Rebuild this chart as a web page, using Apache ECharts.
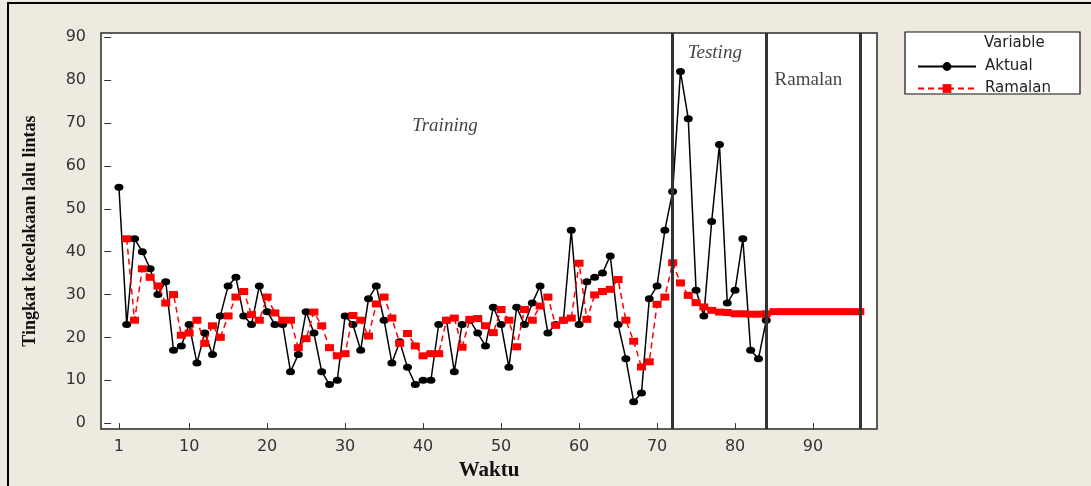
<!DOCTYPE html>
<html>
<head>
<meta charset="utf-8">
<script src="https://cdn.jsdelivr.net/npm/echarts@6/dist/echarts.min.js"></script>
<style>
  html, body { margin: 0; padding: 0; background: #EEEAE0; }
  #chart { width: 1091px; height: 486px; }
</style>
</head>
<body>
<div id="chart"></div>
<script>
// Jumlah kecelakaan lalu lintas per periode waktu (data aktual, t = 1..84)
const aktual = [
  55, 23, 43, 40, 36, 30, 33, 17, 18, 23,
  14, 21, 16, 25, 32, 34, 25, 23, 32, 26,
  23, 23, 12, 16, 26, 21, 12, 9, 10, 25,
  23, 17, 29, 32, 24, 14, 19, 13, 9, 10,
  10, 23, 24, 12, 23, 24, 21, 18, 27, 23,
  13, 27, 23, 28, 32, 21, 23, 24, 45, 23,
  33, 34, 35, 39, 23, 15, 5, 7, 29, 32,
  45, 54, 82, 71, 31, 25, 47, 65, 28, 31,
  43, 17, 15, 24
];
const aktualMulai = 1;

// Hasil ramalan model (t = 2..96)
const ramalan = [
  43, 24, 36, 34, 32, 28, 30, 20.5, 21,
  24, 18.6, 22.7, 20, 25, 29.4, 30.7, 25.3, 24, 29.4,
  25.7, 24, 24, 17.6, 19.7, 25.9, 22.7, 17.6, 15.7, 16.2,
  25.1, 24, 20.3, 27.8, 29.4, 24.5, 18.6, 20.9, 18, 15.7,
  16.2, 16.2, 24, 24.5, 17.7, 24.2, 24.4, 22.7, 21.1, 26.5,
  24, 17.8, 26.5, 24, 27.3, 29.4, 22.8, 24, 24.5, 37.3,
  24.2, 29.9, 30.7, 31.2, 33.5, 24, 19.1, 13.1, 14.3, 27.7,
  29.4, 37.4, 32.7, 29.8, 28.1, 27.1, 26.3, 25.9, 25.8, 25.5,
  25.5, 25.4, 25.4, 25.5, 26, 26, 26, 26, 26, 26,
  26, 26, 26, 26, 26, 26
];
const ramalanMulai = 2;

// Batas periode Training | Testing | Ramalan
const batasPeriode = [72, 84, 96];

// Label sumbu
const labelWaktu = [1, 10, 20, 30, 40, 50, 60, 70, 80, 90];
const labelTingkat = [0, 10, 20, 30, 40, 50, 60, 70, 80, 90];

const keTitik = (arr, mulai) => arr.map((v, i) => [mulai + i, v]);

const chart = echarts.init(document.getElementById('chart'), null, { renderer: 'canvas' });

const fontTick = 'DejaVu Sans, Verdana, sans-serif';
const fontSerif = 'Liberation Serif, Times New Roman, serif';

chart.setOption({
  backgroundColor: '#EEEAE0',
  animation: false,
  grid: {
    left: 101, top: 33, right: 214, bottom: 55,
    show: true,
    backgroundColor: '#ffffff',
    borderColor: '#2a2a2a',
    borderWidth: 1.5
  },
  xAxis: {
    type: 'value',
    min: -1.3,
    max: 98.2,
    name: 'Waktu',
    nameLocation: 'middle',
    nameGap: 28,
    nameTextStyle: { fontFamily: fontSerif, fontWeight: 'bold', fontSize: 21, color: '#111' },
    axisLine: { show: false },
    splitLine: { show: false },
    axisTick: {
      show: true, length: 6, inside: false,
      customValues: labelWaktu,
      lineStyle: { color: '#333', width: 1 }
    },
    axisLabel: {
      customValues: labelWaktu,
      margin: 10,
      fontFamily: fontTick, fontSize: 16, color: '#333'
    }
  },
  yAxis: {
    type: 'value',
    min: -1.4,
    max: 91,
    name: 'Tingkat kecelakaan lalu lintas',
    nameLocation: 'middle',
    nameRotate: 90,
    nameGap: 62,
    nameTextStyle: { fontFamily: fontSerif, fontWeight: 'bold', fontSize: 18, color: '#111' },
    axisLine: { show: false },
    splitLine: { show: false },
    axisTick: {
      show: true, length: 7, inside: false,
      customValues: labelTingkat,
      lineStyle: { color: '#333', width: 1 }
    },
    axisLabel: {
      customValues: labelTingkat,
      margin: 15,
      fontFamily: fontTick, fontSize: 16, color: '#333'
    }
  },
  legend: {
    orient: 'vertical',
    left: 912,
    top: 54,
    itemWidth: 58,
    itemHeight: 11,
    itemGap: 7,
    data: ['Aktual', 'Ramalan'],
    textStyle: { fontFamily: fontTick, fontSize: 15, color: '#222', padding: [0, 0, 0, 4] }
  },
  graphic: [
    { // bingkai luar
      type: 'rect', silent: true, z: 0,
      shape: { x: 8, y: 3, width: 1200, height: 600 },
      style: { fill: 'none', stroke: '#000', lineWidth: 2 }
    },
    { // kotak legenda
      type: 'rect', silent: true, z: 1,
      shape: { x: 905, y: 32, width: 175, height: 62 },
      style: { fill: '#ffffff', stroke: '#111', lineWidth: 1.2 }
    },
    {
      type: 'text', silent: true, z: 2,
      left: 984, top: 36,
      style: { text: 'Variable', font: '15px ' + fontTick, fill: '#222' }
    }
  ],
  series: [
    {
      name: 'Aktual',
      type: 'line',
      data: keTitik(aktual, aktualMulai),
      symbol: 'circle',
      symbolSize: [9, 7],
      showAllSymbol: true,
      itemStyle: { color: '#000' },
      lineStyle: { color: '#000', width: 1.5 },
      z: 3,
      markLine: {
        silent: true,
        symbol: ['none', 'none'],
        label: { show: false },
        lineStyle: { color: '#333', width: 3, type: 'solid' },
        data: batasPeriode.map(x => ({ xAxis: x }))
      }
    },
    {
      name: 'Ramalan',
      type: 'line',
      data: keTitik(ramalan, ramalanMulai),
      symbol: 'rect',
      symbolSize: [9, 7],
      showAllSymbol: true,
      itemStyle: { color: '#ff0000' },
      lineStyle: { color: '#ff0000', width: 1.5, type: [6, 4] },
      z: 4
    },
    {
      // label periode
      name: 'periode',
      type: 'scatter',
      silent: true,
      symbolSize: 0,
      z: 5,
      label: {
        show: true,
        position: 'inside',
        formatter: p => p.name,
        fontFamily: fontSerif,
        fontSize: 19,
        color: '#111'
      },
      data: [
        { name: 'Training', value: [42.8, 69.4], label: { fontStyle: 'italic' } },
        { name: 'Testing', value: [77.4, 86.3], label: { fontStyle: 'italic' } },
        { name: 'Ramalan', value: [89.4, 80.0] }
      ]
    }
  ]
});
</script>
</body>
</html>
